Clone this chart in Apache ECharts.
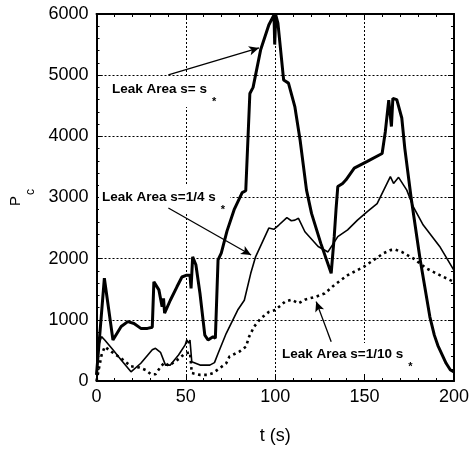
<!DOCTYPE html>
<html>
<head>
<meta charset="utf-8">
<script src="https://cdn.jsdelivr.net/npm/echarts@6/dist/echarts.min.js"></script>
<style>html,body{margin:0;padding:0;background:#fff}#c{width:472px;height:450px}</style>
</head>
<body>
<div id="c"></div>
<script>
// ---- data ----
const xTicks = [0, 50, 100, 150, 200];
const yTicks = [0, 1000, 2000, 3000, 4000, 5000, 6000];

// Leak Area s = s*
const thickT = [0,4.4,9.2,13.8,17.5,21,24.8,28.5,31.2,32.1,34.9,36.7,37.5,38.1,41.3,45,47.8,50.5,52.3,52.9,53.8,55.6,57.9,60.6,62.4,65.2,66.5,68,69.8,73,77,81.5,83.5,85.8,87.6,91.8,96.4,98.5,99.3,99.7,100.3,101.5,104.7,107.4,111,113.9,117.5,120.3,125.5,131.3,133,134,135,137.7,139.6,144.2,151.5,159.8,161.6,163.5,164.2,165,165.8,168,170.8,172.5,176,181,186.5,189,191,195.6,198,200];
const thickP = [100,1680,670,890,970,940,860,860,880,1620,1490,1215,1350,1110,1320,1540,1700,1730,1730,1515,2030,1900,1430,750,670,725,700,1980,2090,2450,2800,3080,3110,4700,4800,5410,5820,5940,5985,5500,5980,5850,4920,4870,4480,3940,3120,2740,2250,1760,2360,2800,3180,3230,3290,3480,3590,3720,4080,4590,4620,4160,4620,4600,4300,3800,3000,2000,1050,750,580,290,180,150];

// Leak Area s = 1/4 s*
const thinT = [0,0.9,2.8,4.6,9.2,13.8,19.3,24.8,31.2,33,35.8,38.6,41.3,45.9,49.6,50.5,51.5,52.3,53.3,57.9,63.4,66,68,72.6,79,82.7,86.3,89,96.4,99.2,102,106.5,109,111,113,116.6,124,129.5,135,140.5,146,151.5,157,164.4,166.2,169,173.6,177.2,182.8,192,200];
const thinP = [100,560,725,670,510,345,150,290,510,535,470,260,260,425,590,670,620,670,315,260,260,300,450,780,1160,1320,1760,2030,2500,2480,2550,2670,2620,2630,2660,2440,2200,2110,2360,2470,2630,2770,2900,3340,3230,3330,3120,2850,2550,2200,1810];

// Leak Area s = 1/10 s*
const dotT = [0,2.8,4.6,8.3,13.8,19.3,24,27.5,30.5,33,35.8,38,40.5,45,49.6,52.3,53.3,57.9,62,65.2,68,72.6,74.4,79.9,83.6,85.4,88.2,91.8,96.4,100,105.6,109.3,113,116.6,123,127.6,133.1,140.5,149.7,155.2,160.7,164.4,167,170.8,177.2,184.6,193.8,200];
const dotP = [0,420,560,480,370,240,220,180,110,110,230,300,250,340,450,470,130,100,100,130,190,290,400,480,560,725,890,1020,1130,1160,1300,1330,1270,1330,1380,1430,1570,1730,1870,1980,2090,2140,2150,2110,2005,1840,1705,1620];

const labels = ['Leak Area s= s', 'Leak Area s=1/4 s', 'Leak Area s=1/10 s'];
const subMark = '*';

// ---- build ----
const FF = '"Liberation Sans", Arial, Helvetica, sans-serif';
const zip = (a, b) => a.map((v, i) => [v, b[i]]);
const black = '#000';

function frameAxis(extra) {
  return Object.assign({
    type: 'value',
    axisLine: { show: true, onZero: false, lineStyle: { color: black, width: 2 } },
    axisTick: { show: true, inside: true, length: 6, lineStyle: { color: black, width: 1 } },
    minorTick: { show: true, splitNumber: 5, length: 3, lineStyle: { color: black, width: 1 } },
    splitLine: { show: false },
    axisLabel: { show: false }
  }, extra);
}

const chart = echarts.init(document.getElementById('c'), null, { renderer: 'canvas' });

const arrowML = (pairs) => ({
  silent: true,
  symbol: ['none', 'arrow'],
  symbolSize: [7, 10],
  label: { show: false },
  lineStyle: { color: black, width: 1.3, type: 'solid' },
  animation: false,
  data: pairs.map(p => [{ coord: p[0] }, { coord: p[1] }])
});

const richText = {
  m: { fontSize: 13.5, fontWeight: 'bold', fontFamily: FF, fill: black, color: black },
  sub: { fontSize: 11, fontWeight: 'bold', fontFamily: FF, fill: black, color: black, padding: [25, 0, 0, 5] }
};

chart.setOption({
  animation: false,
  backgroundColor: '#fff',
  grid: { left: 95, right: 14, top: 14, bottom: 69, containLabel: false },
  xAxis: [
    frameAxis({
      min: 0, max: 200, interval: 50, position: 'bottom',
      axisLabel: { show: true, fontSize: 18, color: black, fontFamily: FF, margin: 7,
        formatter: v => xTicks.includes(v) ? String(v) : '' },
      splitLine: { show: true, lineStyle: { color: black, width: 1, type: [2, 2] } },
      name: 't (s)', nameLocation: 'middle', nameGap: 46,
      nameTextStyle: { fontSize: 18, color: black, fontFamily: FF }
    }),
    frameAxis({ min: 0, max: 200, interval: 50, position: 'top' })
  ],
  yAxis: [
    frameAxis({
      min: 0, max: 6000, interval: 1000, position: 'left',
      axisLabel: { show: true, fontSize: 18, color: black, fontFamily: FF, margin: 8,
        formatter: v => yTicks.includes(v) ? String(v) : '' },
      splitLine: { show: true, lineStyle: { color: black, width: 1, type: [2, 2] } },
      name: '{P|P}{c|c}', nameLocation: 'middle', nameRotate: 90, nameGap: 60,
      nameTextStyle: { rich: {
        P: { fontSize: 15, fontFamily: FF, color: black },
        c: { fontSize: 12, fontFamily: FF, color: black, padding: [30, 0, 0, 1] }
      } }
    }),
    frameAxis({ min: 0, max: 6000, interval: 1000, position: 'right' })
  ],
  graphic: { elements: [
    { type: 'rect', z: 1, silent: true, shape: { x: 105, y: 77, width: 120, height: 30 }, style: { fill: '#fff' } },
    { type: 'rect', z: 1, silent: true, shape: { x: 99, y: 185, width: 131, height: 28 }, style: { fill: '#fff' } },
    { type: 'rect', z: 1, silent: true, shape: { x: 278, y: 343, width: 142, height: 29 }, style: { fill: '#fff' } },
    { type: 'text', z: 5, silent: true, x: 112, y: 89, style: { text: '{m|' + labels[0] + '}{sub|' + subMark + '}', rich: richText, verticalAlign: 'middle', align: 'left' } },
    { type: 'text', z: 5, silent: true, x: 102, y: 197, style: { text: '{m|' + labels[1] + '}{sub|' + subMark + '}', rich: richText, verticalAlign: 'middle', align: 'left' } },
    { type: 'text', z: 5, silent: true, x: 282, y: 354, style: { text: '{m|' + labels[2] + '}{sub|' + subMark + '}', rich: richText, verticalAlign: 'middle', align: 'left' } }
  ] },
  series: [
    {
      name: labels[0], type: 'line', xAxisIndex: 0, yAxisIndex: 0, z: 3,
      data: zip(thickT, thickP), showSymbol: false, symbol: 'none', smooth: false,
      lineStyle: { color: black, width: 3 },
      markLine: arrowML([
        [[40.2, 5003], [90.9, 5445]],
        [[40.2, 2829], [86.5, 2060]],
        [[131.3, 642], [122.9, 1298]]
      ])
    },
    {
      name: labels[1], type: 'line', xAxisIndex: 0, yAxisIndex: 0, z: 3,
      data: zip(thinT, thinP), showSymbol: false, symbol: 'none',
      lineStyle: { color: black, width: 1.6 }
    },
    {
      name: labels[2], type: 'line', xAxisIndex: 0, yAxisIndex: 0, z: 3,
      data: zip(dotT, dotP), showSymbol: false, symbol: 'none',
      lineStyle: { color: black, width: 2.6, type: [2.6, 3.6] }
    }
  ]
});
</script>
</body>
</html>
